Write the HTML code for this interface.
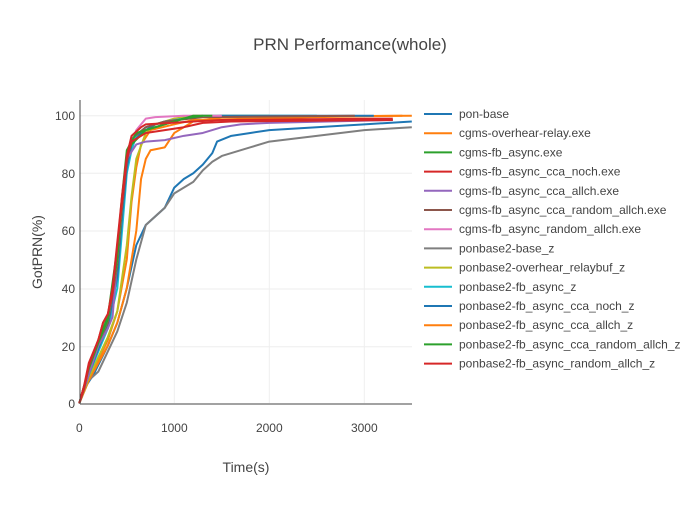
<!DOCTYPE html>
<html><head><meta charset="utf-8"><style>
body{margin:0;background:#fff;}
svg{font-family:"Liberation Sans",sans-serif;}
</style></head><body>
<svg width="700" height="500" xmlns="http://www.w3.org/2000/svg">
<rect width="700" height="500" fill="#fff"/>
<text x="350" y="50" text-anchor="middle" font-size="17" fill="#444">PRN Performance(whole)</text>
<g stroke="#eee" stroke-width="1">
<line x1="174.3" y1="100" x2="174.3" y2="403"/>
<line x1="269.3" y1="100" x2="269.3" y2="403"/>
<line x1="364.3" y1="100" x2="364.3" y2="403"/>
<line x1="80" y1="115.7" x2="412" y2="115.7"/>
<line x1="80" y1="173.3" x2="412" y2="173.3"/>
<line x1="80" y1="231" x2="412" y2="231"/>
<line x1="80" y1="289" x2="412" y2="289"/>
<line x1="80" y1="346.7" x2="412" y2="346.7"/>
</g>
<g font-size="12" fill="#444" text-anchor="end">
<text x="75" y="120">100</text><text x="75" y="178">80</text><text x="75" y="235">60</text>
<text x="75" y="293">40</text><text x="75" y="351">20</text><text x="75" y="408">0</text>
</g>
<g font-size="12" fill="#444" text-anchor="middle">
<text x="79.3" y="432">0</text><text x="174.3" y="432">1000</text><text x="269.3" y="432">2000</text><text x="364.3" y="432">3000</text>
</g>
<text x="246" y="472" text-anchor="middle" font-size="14" fill="#444">Time(s)</text>
<text transform="translate(42,252) rotate(-90)" text-anchor="middle" font-size="14" fill="#444">GotPRN(%)</text>
<g fill="none" stroke-width="2" stroke-linejoin="round" transform="translate(79.3,403.3) scale(0.095,-2.876)" vector-effect="non-scaling-stroke">
<polyline vector-effect="non-scaling-stroke" stroke="#1f77b4" points="0,0 50,5 150,10 300,20 400,28 500,40 600,55 700,62 800,65 900,68 1000,75 1100,78 1200,80 1300,83 1400,87 1450,91 1600,93 1800,94 2000,95 2500,96 3000,97 3500,98"/>
<polyline vector-effect="non-scaling-stroke" stroke="#7f7f7f" points="0,0 100,8 200,11 300,18 400,25 500,35 600,50 700,62 800,65 900,68 1000,73 1200,77 1300,81 1400,84 1500,86 1800,89 2000,91 2500,93 3000,95 3500,96"/>
<polyline vector-effect="non-scaling-stroke" stroke="#ff7f0e" points="0,0 100,8 200,14 300,20 400,28 500,40 600,60 650,78 700,85 750,88 900,89 1000,94 1200,98 1500,99.5 3500,100"/>
<polyline vector-effect="non-scaling-stroke" stroke="#ff7f0e" points="0,0 100,9 200,15 300,22 400,32 500,50 550,70 600,82 650,90 750,95 1000,97 1200,98.5 2500,99.5 3400,100"/>
<polyline vector-effect="non-scaling-stroke" stroke="#bcbd22" points="0,0 100,9 200,16 300,23 400,32 500,55 550,72 600,85 700,94 800,97 1000,99 1200,100 2000,100"/>
<polyline vector-effect="non-scaling-stroke" stroke="#17becf" points="0,0 100,10 200,18 300,26 400,40 450,60 500,80 550,88 600,93 700,96 900,98 1100,99 1300,100 2500,100"/>
<polyline vector-effect="non-scaling-stroke" stroke="#1f77b4" points="0,0 100,10 200,19 300,27 400,44 450,65 500,82 550,90 650,94 800,97 1200,99.5 1500,100 3100,100"/>
<polyline vector-effect="non-scaling-stroke" stroke="#9467bd" points="0,0 100,10 200,20 300,26 350,30 400,50 450,70 500,85 600,90 700,91 900,91.5 1100,93 1300,94 1500,96 1700,97 2000,97.5 3300,98.5"/>
<polyline vector-effect="non-scaling-stroke" stroke="#8c564b" points="0,0 100,12 200,21 300,28 400,48 450,68 500,84 550,92 700,96 900,98 1300,99.5 2900,100"/>
<polyline vector-effect="non-scaling-stroke" stroke="#e377c2" points="0,0 100,12 200,21 300,29 400,50 450,70 500,86 600,95 700,99 800,99.5 1100,100 1500,100"/>
<polyline vector-effect="non-scaling-stroke" stroke="#2ca02c" points="0,0 50,5 100,13 200,22 300,30 400,54 450,72 500,88 600,94 800,96 1000,98 1200,100 1400,100"/>
<polyline vector-effect="non-scaling-stroke" stroke="#2ca02c" points="0,0 100,12 200,21 300,29 400,50 450,70 500,86 550,90 700,95 900,97 1100,99 1300,100"/>
<polyline vector-effect="non-scaling-stroke" stroke="#d62728" points="0,0 50,6 100,14 200,22 250,28 300,31 350,40 400,56 450,72 500,86 550,93 650,96 700,97 1200,98 1500,98.5 3300,99"/>
<polyline vector-effect="non-scaling-stroke" stroke="#d62728" points="0,0 50,5 100,13 200,22 250,28 300,31 350,38 400,55 450,70 500,85 550,91 600,92 700,94 900,95 1100,96 1300,97.5 1600,98 3300,98.5"/>
</g>
<line x1="80" y1="100" x2="80" y2="404" stroke="#444" stroke-width="1"/>
<line x1="80" y1="404" x2="412" y2="404" stroke="#444" stroke-width="1"/>
<g font-size="12" fill="#444" stroke-width="2">
<line x1="424" x2="452" y1="114" y2="114" stroke="#1f77b4"/><text x="459" y="118">pon-base</text>
<line x1="424" x2="452" y1="133.2" y2="133.2" stroke="#ff7f0e"/><text x="459" y="137.2">cgms-overhear-relay.exe</text>
<line x1="424" x2="452" y1="152.4" y2="152.4" stroke="#2ca02c"/><text x="459" y="156.4">cgms-fb_async.exe</text>
<line x1="424" x2="452" y1="171.6" y2="171.6" stroke="#d62728"/><text x="459" y="175.6">cgms-fb_async_cca_noch.exe</text>
<line x1="424" x2="452" y1="190.8" y2="190.8" stroke="#9467bd"/><text x="459" y="194.8">cgms-fb_async_cca_allch.exe</text>
<line x1="424" x2="452" y1="210" y2="210" stroke="#8c564b"/><text x="459" y="214">cgms-fb_async_cca_random_allch.exe</text>
<line x1="424" x2="452" y1="229.2" y2="229.2" stroke="#e377c2"/><text x="459" y="233.2">cgms-fb_async_random_allch.exe</text>
<line x1="424" x2="452" y1="248.4" y2="248.4" stroke="#7f7f7f"/><text x="459" y="252.4">ponbase2-base_z</text>
<line x1="424" x2="452" y1="267.6" y2="267.6" stroke="#bcbd22"/><text x="459" y="271.6">ponbase2-overhear_relaybuf_z</text>
<line x1="424" x2="452" y1="286.8" y2="286.8" stroke="#17becf"/><text x="459" y="290.8">ponbase2-fb_async_z</text>
<line x1="424" x2="452" y1="306" y2="306" stroke="#1f77b4"/><text x="459" y="310">ponbase2-fb_async_cca_noch_z</text>
<line x1="424" x2="452" y1="325.2" y2="325.2" stroke="#ff7f0e"/><text x="459" y="329.2">ponbase2-fb_async_cca_allch_z</text>
<line x1="424" x2="452" y1="344.4" y2="344.4" stroke="#2ca02c"/><text x="459" y="348.4">ponbase2-fb_async_cca_random_allch_z</text>
<line x1="424" x2="452" y1="363.6" y2="363.6" stroke="#d62728"/><text x="459" y="367.6">ponbase2-fb_async_random_allch_z</text>
</g>
</svg>
</body></html>
